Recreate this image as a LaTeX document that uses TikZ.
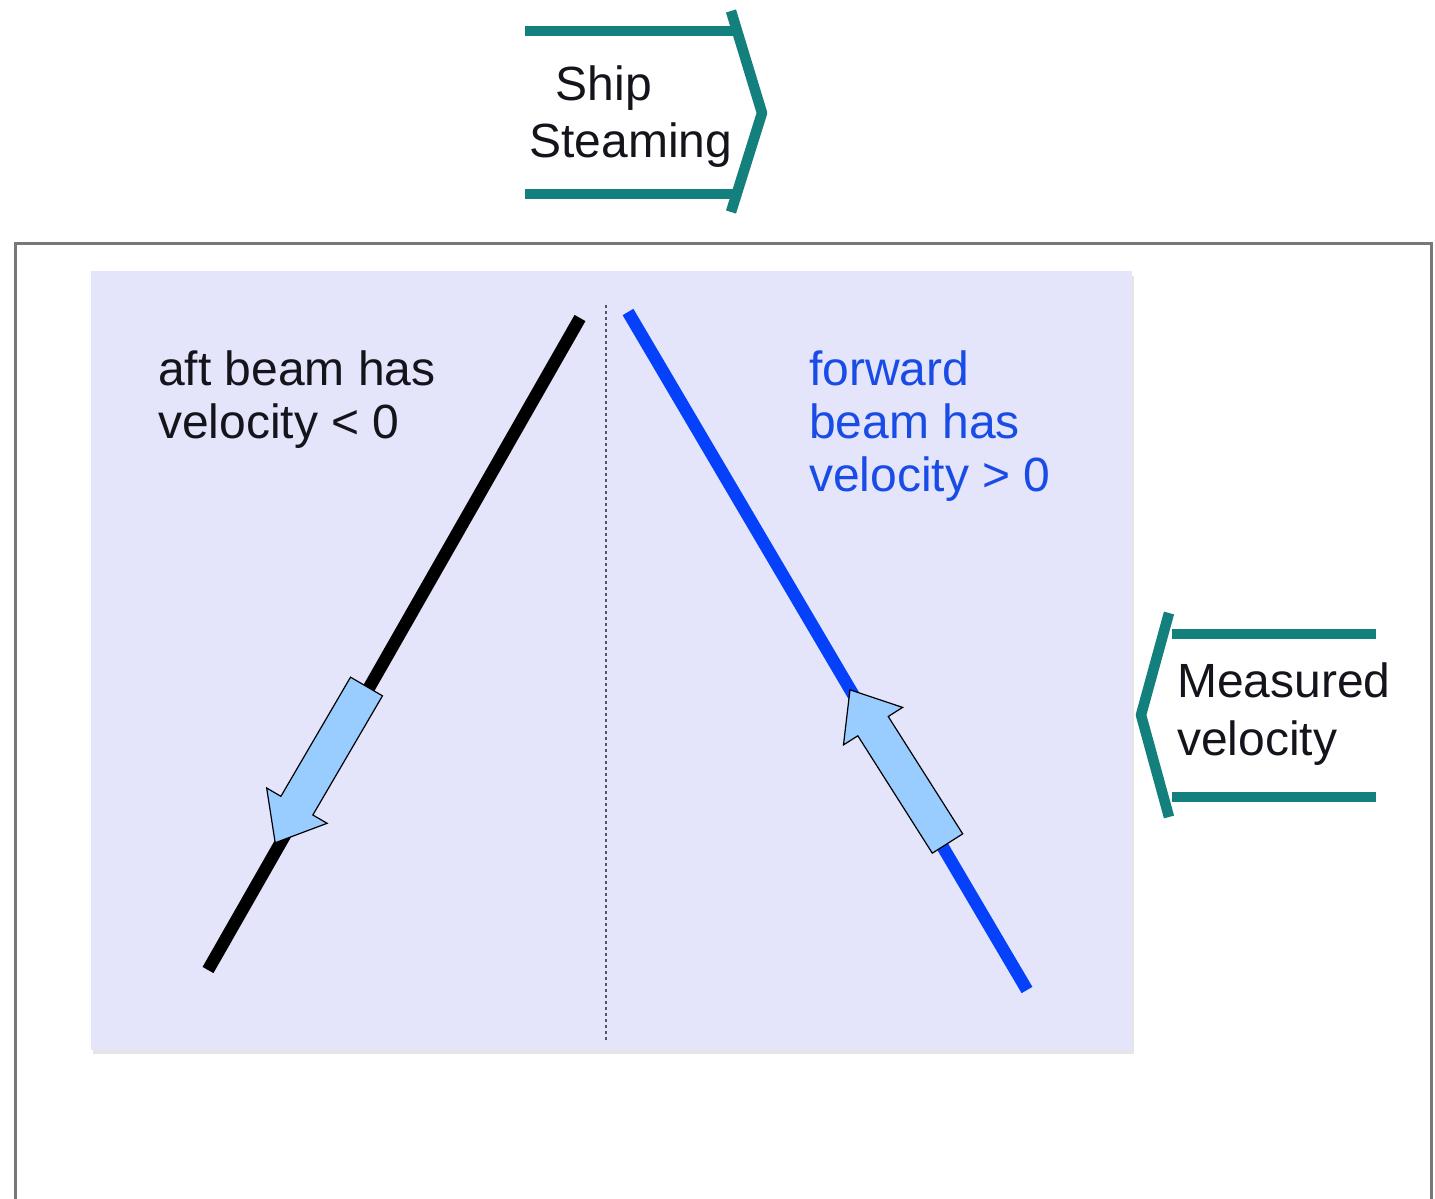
\documentclass[tikz,border=0pt]{standalone}
\usepackage{fontspec}
\setmainfont{Liberation Sans}
\definecolor{tealc}{RGB}{20,128,125}
\definecolor{lav}{RGB}{228,228,250}
\definecolor{beamblue}{RGB}{5,65,250}
\definecolor{txtblue}{RGB}{25,75,230}
\definecolor{arrfill}{RGB}{153,204,255}
\definecolor{txtdark}{RGB}{20,20,28}
\definecolor{framegray}{RGB}{120,120,120}
\definecolor{dotgray}{RGB}{85,85,100}
\begin{document}
\begin{tikzpicture}[x=1pt,y=-1pt,
  txt/.style={font=\fontsize{48}{54}\selectfont, inner sep=0pt, text=txtdark},
  lefttxt/.style={txt, anchor=base west},
  bluetxt/.style={lefttxt, text=txtblue},
  tealline/.style={draw=tealc, line width=10.5pt, line join=round},
  beam/.style={line width=12.5pt},
  blockarrow/.style={fill=arrfill, draw=black, line width=1.2pt, line join=miter},
  dividerline/.style={draw=dotgray, line width=2.5pt, dash pattern=on 3pt off 3pt}]
\useasboundingbox (0,0) rectangle (1435,1199);
\fill[white] (0,0) rectangle (1435,1199);
% outer frame (open at the bottom)
\draw[framegray, line width=3pt] (15,1199) -- (15,243) -- (1431,243) -- (1431,1199);
% shaded panel with faint shadow
\fill[black!10] (93,276) rectangle (1134,1054);
\fill[lav] (91,271) rectangle (1132,1050);
% centre divider
\coordinate (divTop) at (606,305);
\coordinate (divBot) at (606,1042);
\draw[dividerline] (divTop) -- (divBot);
% beams
\coordinate (aftTop) at (580,318);
\coordinate (aftBot) at (208,970);
\coordinate (fwdTop) at (628,312);
\coordinate (fwdBot) at (1027,990);
\draw[beam, black] (aftTop) -- (aftBot);
\draw[beam, beamblue] (fwdTop) -- (fwdBot);
% block arrows
\begin{scope}[shift={(366.5,686.5)}, rotate=239.7]
  \draw[blockarrow] (0pt,-18.5pt) -- (138pt,-18.5pt) -- (138pt,-35pt) -- (181pt,0pt) -- (138pt,35pt) -- (138pt,18.5pt) -- (0pt,18.5pt) -- cycle;
\end{scope}
\begin{scope}[shift={(947.5,843.5)}, rotate=122.4]
  \draw[blockarrow] (0pt,-18pt) -- (139pt,-18pt) -- (139pt,-35pt) -- (182pt,0pt) -- (139pt,35pt) -- (139pt,18pt) -- (0pt,18pt) -- cycle;
\end{scope}
% Ship Steaming chevron
\draw[tealline] (525,31) -- (734,31);
\draw[tealline] (525,194) -- (734,194);
\draw[tealline] (731,11) -- (762,113) -- (731,212);
\node[txt, anchor=base] (ship) at (604,100) {Ship};
\node[txt, anchor=base] (steam) at (631,157) {Steaming};
% Measured velocity chevron
\draw[tealline] (1172,634) -- (1376,634);
\draw[tealline] (1172,797) -- (1376,797);
\draw[tealline] (1169,613) -- (1141,715) -- (1169,817);
\node[lefttxt] (meas1) at (1177,697) {Measured};
\node[lefttxt] (meas2) at (1177,755) {velocity};
% labels
\node[lefttxt] (aft1) at (158,385) {aft beam has};
\node[lefttxt] (aft2) at (158,438) {velocity < 0};
\node[bluetxt] (fwd1) at (809,385) {forward};
\node[bluetxt] (fwd2) at (809,438) {beam has};
\node[bluetxt] (fwd3) at (809,491) {velocity > 0};
\end{tikzpicture}
\end{document}
